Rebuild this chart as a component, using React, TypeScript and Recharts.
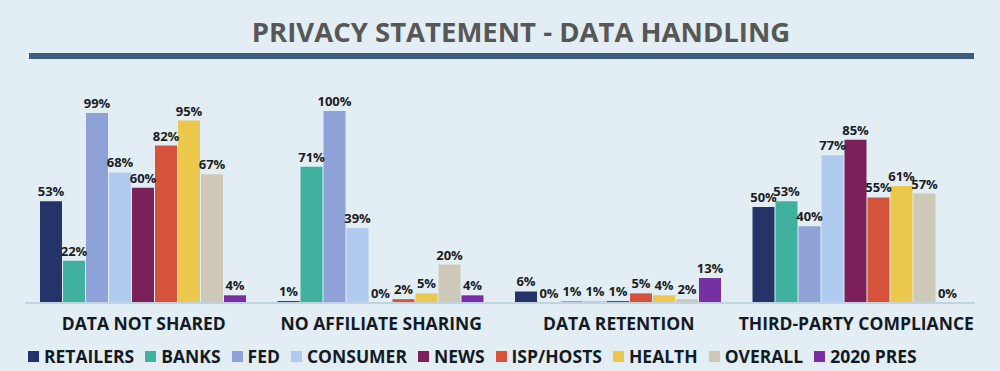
import React from 'react';
import { BarChart, Bar, XAxis, YAxis, LabelList, Legend } from 'recharts';

const categories = ['DATA NOT SHARED', 'NO AFFILIATE SHARING', 'DATA RETENTION', 'THIRD-PARTY COMPLIANCE'];
const seriesNames = ['RETAILERS', 'BANKS', 'FED', 'CONSUMER', 'NEWS', 'ISP/HOSTS', 'HEALTH', 'OVERALL', '2020 PRES'];
const retailers = [53, 1, 6, 50];
const banks = [22, 71, 0, 53];
const fed = [99, 100, 1, 40];
const consumer = [68, 39, 1, 77];
const news = [60, 0, 1, 85];
const ispHosts = [82, 2, 5, 55];
const health = [95, 5, 4, 61];
const overall = [67, 20, 2, 57];
const pres2020 = [4, 4, 13, 0];
const seriesValues = [retailers, banks, fed, consumer, news, ispHosts, health, overall, pres2020];
const colors = ['#253468', '#3fb19e', '#8fa2d8', '#afcbf0', '#7b2059', '#d5533a', '#ebc74b', '#cdc8b8', '#7630a3'];

const keys = seriesNames.map((_, i) => 's' + i);
const data = categories.map((c, ci) => {
  const row: Record<string, string | number> = { name: c };
  seriesValues.forEach((vals, si) => {
    row[keys[si]] = vals[ci];
  });
  return row;
});

const FONT = "'Open Sans', sans-serif";

const LegendContent = () => (
  <div
    style={{
      display: 'flex',
      alignItems: 'center',
      height: 31,
      paddingTop: 11,
      paddingLeft: 3,
      boxSizing: 'border-box',
      fontFamily: FONT,
      fontWeight: 700,
      fontSize: 17.5,
      color: '#141a24',
      whiteSpace: 'nowrap',
    }}
  >
    {seriesNames.map((n, i) => (
      <div key={n} style={{ display: 'flex', alignItems: 'center', marginRight: 11 }}>
        <span style={{ display: 'inline-block', width: 11, height: 11, background: colors[i], marginRight: 5 }} />
        <span>{n}</span>
      </div>
    ))}
  </div>
);

const renderLabel = (props: any) => {
  const { x, y, width, height, value } = props;
  if (value === undefined || value === null) return null;
  const top = Math.min(Number(y), Number(y) + Number(height || 0));
  return (
    <text
      x={Number(x) + Number(width) / 2}
      y={top - 5}
      textAnchor="middle"
      style={{ fontFamily: FONT, fontWeight: 700, fontSize: 13, fill: '#1a1d24' }}
    >
      {value + '%'}
    </text>
  );
};

const minSize = (v: any) => (Number(v) === 0 ? 0.01 : 0);

export default function App() {
  return (
    <div
      style={{
        position: 'absolute',
        left: 0,
        top: 0,
        width: 1000,
        height: 371,
        background: '#e2edf4',
        overflow: 'hidden',
      }}
    >
      <div
        style={{
          position: 'absolute',
          top: 13,
          left: 42,
          width: 958,
          textAlign: 'center',
          fontFamily: FONT,
          fontWeight: 700,
          fontSize: 27.5,
          lineHeight: '38px',
          color: '#575757',
        }}
      >
        PRIVACY STATEMENT - DATA HANDLING
      </div>
      <div style={{ position: 'absolute', top: 53, left: 29, width: 945, height: 6, background: '#3c5f81' }} />
      <div style={{ position: 'absolute', left: 0, top: 0 }}>
        <BarChart
          width={1000}
          height={371}
          data={data}
          margin={{ top: 111, right: 25, left: 25, bottom: 5 }}
          barCategoryGap={15}
          barGap={1}
        >
          <XAxis
            dataKey="name"
            height={32}
            tickLine={false}
            tickSize={0}
            tickMargin={15}
            axisLine={{ stroke: '#bfd3e5', strokeWidth: 2 }}
            tick={{ fontFamily: FONT, fontWeight: 700, fontSize: 17.5, fill: '#141a24' }}
            interval={0}
          />
          <YAxis hide domain={[0, 100]} />
          <Legend verticalAlign="bottom" height={31} content={<LegendContent />} />
          {keys.map((k, i) => (
            <Bar
              key={k}
              dataKey={k}
              name={seriesNames[i]}
              fill={colors[i]}
              minPointSize={minSize}
              isAnimationActive={false}
            >
              <LabelList dataKey={k} position="top" content={renderLabel} />
            </Bar>
          ))}
        </BarChart>
      </div>
    </div>
  );
}
